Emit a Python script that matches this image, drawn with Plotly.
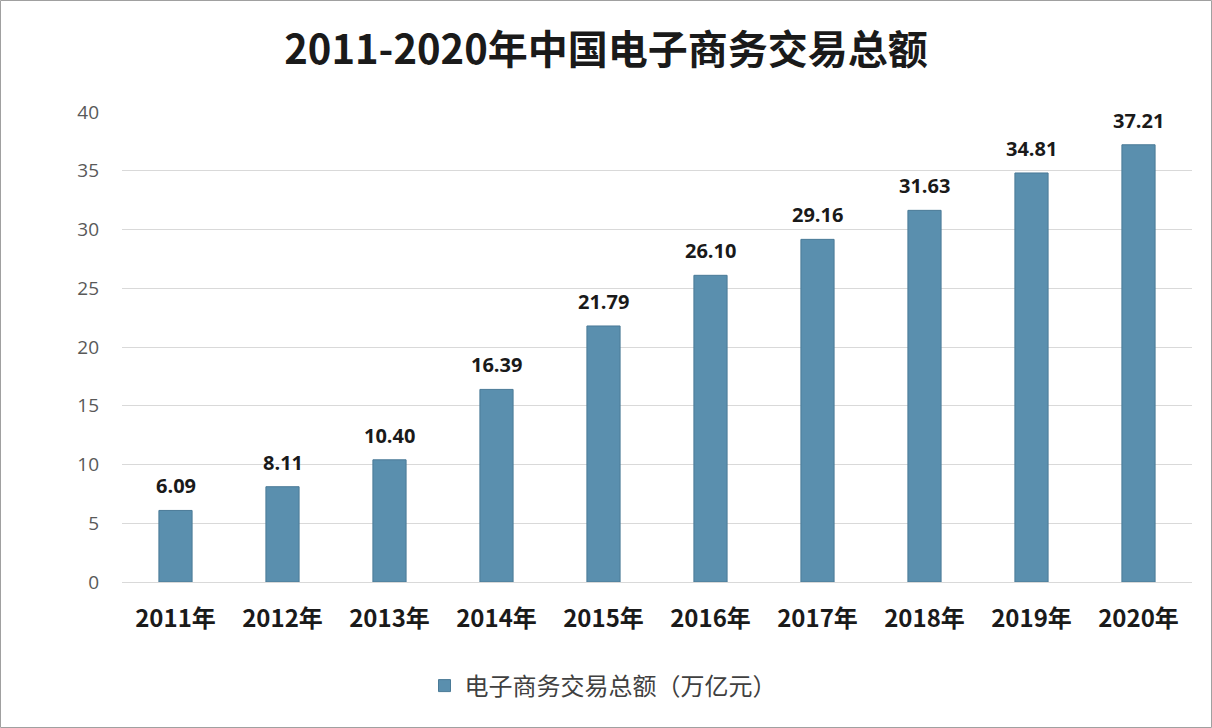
import plotly.graph_objects as go

years = ["2011年", "2012年", "2013年", "2014年", "2015年", "2016年", "2017年", "2018年", "2019年", "2020年"]
values = [6.09, 8.11, 10.40, 16.39, 21.79, 26.10, 29.16, 31.63, 34.81, 37.21]
series_name = "电子商务交易总额（万亿元）"
title_text = "2011-2020年中国电子商务交易总额"

W, H = 1212, 728
L, R, T, B = 122, 20, 112, 146
pw, ph = W - L - R, H - T - B

def px_x(p):
    return (p - L) / pw

def px_y(p):
    return (H - B - p) / ph

fig = go.Figure()
fig.add_trace(go.Bar(
    x=years, y=values, name=series_name,
    marker=dict(color="#5A8FAE", line=dict(color="#4A7A97", width=1)),
    width=0.31,
    showlegend=True,
    hoverinfo="x+y",
))

annotations = [
    dict(x=yr, y=v, xref="x", yref="y", text=f"{v:.2f}", showarrow=False,
         yanchor="bottom", yshift=9,
         font=dict(family="Open Sans, sans-serif", size=20, color="#1a1a1a", weight="bold"))
    for yr, v in zip(years, values)
]

fig.update_layout(
    width=W, height=H,
    margin=dict(l=L, r=R, t=T, b=B),
    paper_bgcolor="white", plot_bgcolor="white",
    title=dict(text=title_text, x=0.5, xanchor="center", y=1 - 50 / H, yanchor="middle",
               font=dict(family="Noto Sans CJK SC, sans-serif", size=40, color="#1a1a1a", weight="bold")),
    font=dict(family="Noto Sans CJK SC, sans-serif"),
    xaxis=dict(showgrid=False, showline=False, ticks="",
               tickfont=dict(family="Noto Sans CJK SC, sans-serif", size=24, color="#1a1a1a", weight="bold"),
               ticklabelstandoff=20),
    yaxis=dict(range=[0, 40], dtick=5, showgrid=True, gridcolor="#d9d9d9", gridwidth=1,
               zeroline=True, zerolinecolor="#d9d9d9", zerolinewidth=1, showline=False,
               tickfont=dict(family="Open Sans, sans-serif", size=19, color="#595959"),
               ticklabelstandoff=22),
    legend=dict(orientation="h", x=px_x(603), xanchor="center", y=px_y(686), yanchor="middle",
                font=dict(family="Noto Sans CJK SC, sans-serif", size=24, color="#404040"),
                itemwidth=30),
    annotations=annotations,
    shapes=[dict(type="rect", xref="paper", yref="paper",
                 x0=px_x(0.5), x1=px_x(W - 0.5), y0=px_y(H - 0.5), y1=px_y(0.5),
                 line=dict(color="#a0a0a0", width=1), layer="above")],
)

fig.write_html("out.html", config={"displayModeBar": False},
               post_script="document.body.style.margin='0';document.body.style.overflow='hidden';")
